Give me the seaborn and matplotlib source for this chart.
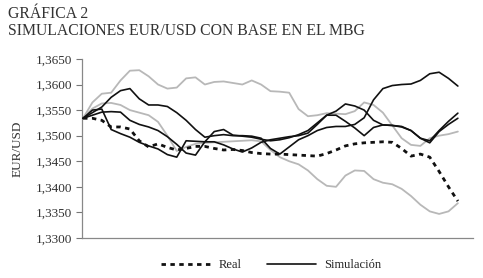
import numpy as np
import pandas as pd
import matplotlib
matplotlib.use("Agg")
import matplotlib.pyplot as plt
import seaborn as sns

# valores (41 observaciones)
real = [1.3534, 1.3534, 1.3530, 1.3517, 1.3517, 1.3513, 1.3490, 1.3478, 1.3484, 1.3477,
        1.3472, 1.3475, 1.3479, 1.3479, 1.3475, 1.3472, 1.3473, 1.3471, 1.3467, 1.3465,
        1.3464, 1.3464, 1.3463, 1.3462, 1.3461, 1.3460, 1.3465, 1.3472, 1.3480, 1.3484,
        1.3486, 1.3487, 1.3488, 1.3487, 1.3475, 1.3460, 1.3464, 1.3458, 1.3430, 1.3400,
        1.3372]

sim_negra_1 = [1.3534, 1.3545, 1.3556, 1.3575, 1.3588, 1.3592, 1.3572, 1.3560, 1.3560, 1.3557,
               1.3545, 1.3530, 1.3512, 1.3497, 1.3500, 1.3502, 1.3500, 1.3500, 1.3499, 1.3495,
               1.3475, 1.3464, 1.3478, 1.3492, 1.3500, 1.3510, 1.3516, 1.3518, 1.3518, 1.3522,
               1.3535, 1.3570, 1.3592, 1.3598, 1.3600, 1.3601, 1.3608, 1.3621, 1.3624, 1.3612,
               1.3597]

sim_negra_2 = [1.3534, 1.3550, 1.3552, 1.3512, 1.3504, 1.3497, 1.3487, 1.3480, 1.3474, 1.3463,
               1.3458, 1.3490, 1.3489, 1.3488, 1.3488, 1.3482, 1.3474, 1.3468, 1.3476, 1.3487,
               1.3492, 1.3495, 1.3498, 1.3500, 1.3505, 1.3522, 1.3540, 1.3548, 1.3562, 1.3558,
               1.3550, 1.3530, 1.3521, 1.3520, 1.3517, 1.3510, 1.3495, 1.3486, 1.3508, 1.3522,
               1.3534]

sim_negra_3 = [1.3534, 1.3540, 1.3546, 1.3547, 1.3546, 1.3530, 1.3522, 1.3517, 1.3510, 1.3498,
               1.3483, 1.3466, 1.3462, 1.3488, 1.3508, 1.3512, 1.3501, 1.3499, 1.3497, 1.3493,
               1.3490, 1.3492, 1.3496, 1.3502, 1.3510, 1.3525, 1.3540, 1.3540, 1.3528, 1.3515,
               1.3500, 1.3516, 1.3521, 1.3520, 1.3518, 1.3510, 1.3495, 1.3490, 1.3510, 1.3528,
               1.3544]

sim_gris_alta = [1.3534, 1.3565, 1.3582, 1.3584, 1.3608, 1.3627, 1.3628, 1.3616, 1.3600, 1.3592,
                 1.3594, 1.3612, 1.3614, 1.3600, 1.3605, 1.3606, 1.3603, 1.3600, 1.3608, 1.3600,
                 1.3587, 1.3586, 1.3584, 1.3552, 1.3538, 1.3540, 1.3544, 1.3543, 1.3542, 1.3548,
                 1.3565, 1.3560, 1.3545, 1.3520, 1.3495, 1.3482, 1.3480, 1.3495, 1.3500, 1.3503,
                 1.3508]

sim_gris_baja = [1.3534, 1.3553, 1.3563, 1.3564, 1.3560, 1.3550, 1.3545, 1.3540, 1.3527, 1.3500,
                 1.3470, 1.3478, 1.3484, 1.3486, 1.3487, 1.3488, 1.3489, 1.3490, 1.3491, 1.3489,
                 1.3472, 1.3458, 1.3450, 1.3444, 1.3432, 1.3415, 1.3402, 1.3400, 1.3422, 1.3432,
                 1.3431, 1.3415, 1.3408, 1.3405, 1.3396, 1.3382, 1.3365, 1.3352, 1.3347, 1.3352,
                 1.3368]

yticks = [1.3300, 1.3350, 1.3400, 1.3450, 1.3500, 1.3550, 1.3600, 1.3650]

dias = np.arange(len(real))

sns.set_style("white")
plt.rcParams['font.family'] = ['Liberation Serif', 'DejaVu Serif']

fig = plt.figure(figsize=(4.83, 2.78), dpi=100)
ax = fig.add_axes([0.170, 0.144, 0.809, 0.644])

gris = '#b8b8b8'
for serie in [sim_gris_alta, sim_gris_baja]:
    sns.lineplot(x=dias, y=serie, ax=ax, color=gris, lw=1.3, zorder=2)
for i, serie in enumerate([sim_negra_1, sim_negra_2, sim_negra_3]):
    sns.lineplot(x=dias, y=serie, ax=ax, color='#111111', lw=1.2, zorder=3,
                 label='Simulación' if i == 0 else None)
sns.lineplot(x=dias, y=real, ax=ax, color='#111111', lw=2.0, zorder=4,
             linestyle=(0, (1.6, 1.6)), label='Real')

ax.set_xlim(-0.1, 41.6)
ax.set_ylim(1.3300, 1.3650)
ax.set_yticks(yticks)
ax.set_yticklabels([f"{v:.4f}".replace('.', ',') for v in yticks], fontsize=9.5, color='#333333')
ax.set_xticks([])
ax.tick_params(axis='y', direction='out', length=4, width=0.8, color='#777777', left=True, pad=3)
ax.set_ylabel('EUR/USD', fontsize=9.5, color='#333333', labelpad=9)

for lado in ['top', 'right']:
    ax.spines[lado].set_visible(False)
for lado in ['left', 'bottom']:
    ax.spines[lado].set_color('#888888')
    ax.spines[lado].set_linewidth(0.9)

ax.get_legend().remove()
h, l = ax.get_legend_handles_labels()
orden = [l.index('Real'), l.index('Simulación')]
fig.legend([h[k] for k in orden], [l[k] for k in orden], loc='center',
           bbox_to_anchor=(0.562, 0.045), ncol=2, frameon=False, fontsize=9,
           handlelength=3.9, columnspacing=2.0, handletextpad=0.7)

fig.text(0.017, 0.948, 'GRÁFICA 2', fontsize=11.3, color='#333333', va='center')
fig.text(0.017, 0.888, 'SIMULACIONES EUR/USD CON BASE EN EL MBG', fontsize=11.3,
         color='#333333', va='center')

fig.savefig('out.png', dpi=100)
